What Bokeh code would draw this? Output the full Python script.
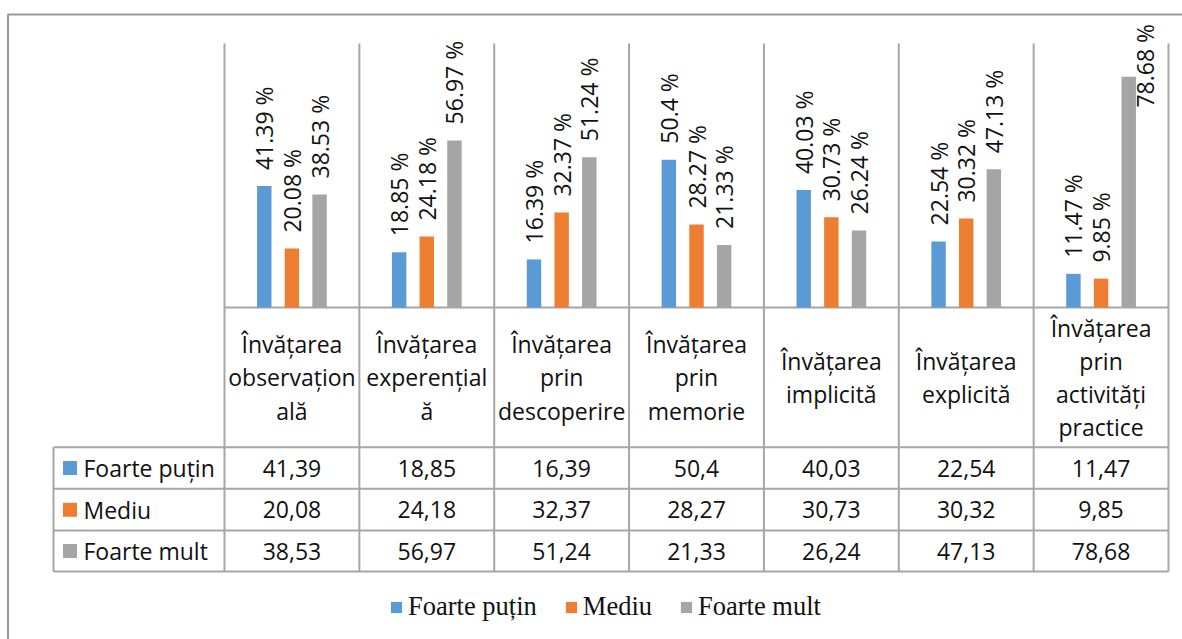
import math
from bokeh.plotting import figure
from bokeh.models import ColumnDataSource, Range1d, Legend, LegendItem
from bokeh.transform import dodge
from bokeh.core.properties import value
from bokeh.embed import file_html
from bokeh.resources import INLINE

# ---------------- data ----------------
categories = [
    "Învățarea\nobservațion\nală",
    "Învățarea\nexperențial\nă",
    "Învățarea\nprin\ndescoperire",
    "Învățarea\nprin\nmemorie",
    "Învățarea\nimplicită",
    "Învățarea\nexplicită",
    "Învățarea\nprin\nactivități\npractice",
]
series_names = ["Foarte puțin", "Mediu", "Foarte mult"]
foarte_putin = [41.39, 18.85, 16.39, 50.4, 40.03, 22.54, 11.47]
mediu = [20.08, 24.18, 32.37, 28.27, 30.73, 30.32, 9.85]
foarte_mult = [38.53, 56.97, 51.24, 21.33, 26.24, 47.13, 78.68]
series_values = [foarte_putin, mediu, foarte_mult]
colors = ["#5b9bd5", "#ed7d31", "#a5a5a5"]
Y_MAX = 90

# ---------------- geometry (page pixels) ----------------
W, H = 1182, 639
OX, OY = 0, 0
PLOT_L, PLOT_R = 224, 1168        # plot area left/right
BASE, TOP = 307, 43               # baseline / top of plot area
ROW_HDR_L = 53
ROW_LINES = [446.7, 488.3, 530.0, 571.0]
N = len(categories)
ux = (PLOT_R - PLOT_L) / N
uy = (BASE - TOP) / Y_MAX

def fx(px):
    return (px - PLOT_L) / ux

def fy(py):
    return (BASE - py) / uy

FONT = value("Open Sans")
FS = "23px"
GRID = "#a6a6a6"
TXT = "#111111"

p = figure(width=W, height=H, output_backend="svg", toolbar_location=None,
           x_range=Range1d(fx(OX), fx(OX + W)), y_range=Range1d(fy(OY + H), fy(OY)),
           x_axis_type=None, y_axis_type=None, min_border=0)
p.outline_line_color = None
p.grid.visible = False
p.background_fill_color = "white"

# outer chart border
p.segment(x0=[fx(7.5), fx(7)], y0=[fy(14), fy(14)], x1=[fx(7.5), fx(OX + W)], y1=[fy(OY + H), fy(14)],
          line_color="#9a9a9a", line_width=2)

# category separators through chart and table
seps = list(range(N + 1))
p.segment(x0=seps, y0=[Y_MAX] * (N + 1), x1=seps, y1=[fy(ROW_LINES[-1])] * (N + 1),
          line_color=GRID, line_width=2)
# row-header left edge
p.segment(x0=[fx(ROW_HDR_L)], y0=[fy(ROW_LINES[0])], x1=[fx(ROW_HDR_L)], y1=[fy(ROW_LINES[-1])],
          line_color=GRID, line_width=2)
# horizontal lines
p.segment(x0=[0] + [fx(ROW_HDR_L)] * len(ROW_LINES), y0=[0] + [fy(r) for r in ROW_LINES],
          x1=[N] * (len(ROW_LINES) + 1), y1=[0] + [fy(r) for r in ROW_LINES],
          line_color=GRID, line_width=2)

# ---------------- bars ----------------
xs = [i + 0.5 for i in range(N)]
offsets = [-0.205, 0.0, 0.205]
BAR_W = 0.107
LABEL_LEN = 29.0     # approx. rotated label length in value units
LABEL_PAD = 16 / uy
label_top_limit = fy(22)

renderers = []
for s, (name, vals, col, off) in enumerate(zip(series_names, series_values, colors, offsets)):
    src = ColumnDataSource(dict(x=xs, top=vals))
    r = p.vbar(x=dodge("x", off), top="top", bottom=0, width=BAR_W, source=src,
               fill_color=col, line_color=None)
    renderers.append(r)
    lx, ly, lt = [], [], []
    for xi, v in zip(xs, vals):
        y = v + LABEL_PAD
        shift = 0.0
        if y + LABEL_LEN > label_top_limit:
            y = label_top_limit - LABEL_LEN
            shift = 16 / ux
        lx.append(xi + off + shift)
        ly.append(y)
        lt.append(f"{v} %")
    p.text(x=lx, y=ly, text=lt, angle=math.pi / 2, text_align="left", text_baseline="middle",
           text_font=FONT, text_font_size=FS, text_color=TXT)

# ---------------- data table ----------------
p.text(x=xs, y=[fy(377)] * N, text=categories, text_align="center", text_baseline="middle",
       text_font=FONT, text_font_size=FS, text_line_height=1.04, text_color=TXT)

row_centers = [(ROW_LINES[i] + ROW_LINES[i + 1]) / 2 for i in range(3)]
for name, vals, col, rc in zip(series_names, series_values, colors, row_centers):
    p.scatter(x=[fx(69.5)], y=[fy(rc)], marker="square", size=14, fill_color=col, line_color=None)
    p.text(x=[fx(83)], y=[fy(rc)], text=[name], text_align="left", text_baseline="middle",
           text_font=FONT, text_font_size=FS, text_color=TXT)
    p.text(x=xs, y=[fy(rc)] * N, text=[str(v).replace(".", ",") for v in vals],
           text_align="center", text_baseline="middle",
           text_font=FONT, text_font_size=FS, text_color=TXT)

# ---------------- legend ----------------
legend = Legend(items=[LegendItem(label=n, renderers=[r]) for n, r in zip(series_names, renderers)],
                orientation="horizontal", location=(389 - OX, H - 622),
                glyph_width=14, glyph_height=14, label_standoff=5, spacing=27,
                padding=0, margin=0, border_line_color=None, background_fill_alpha=0,
                label_text_font="Liberation Serif", label_text_font_size="26.5px",
                label_text_color=TXT)
p.add_layout(legend, "center")

open("out.html", "w").write(file_html(p, INLINE))
